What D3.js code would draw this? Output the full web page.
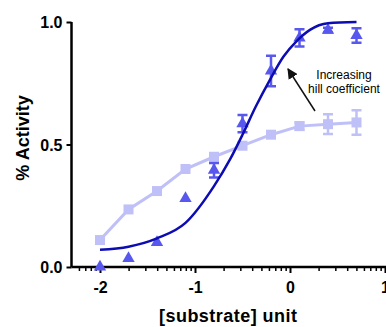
<html>
<head>
<meta charset="utf-8">
<title>Hill coefficient</title>
<script src="https://d3js.org/d3.v7.min.js"></script>
<style type="text/css">
body{ margin:0; background:#fff; }
svg{ display:block; font-family:"Liberation Sans", Arial, sans-serif; }
.axis path, .axis line{ stroke:#000; }
.axis text{ font-weight:bold; font-size:16px; fill:#000; }
.title{ font-weight:bold; font-size:18px; }
.note{ font-size:12px; }
</style>
</head>
<body>
<script>
// log10 [substrate]
var conc = [-2, -1.7, -1.4, -1.1, -0.8, -0.5, -0.2, 0.1, 0.4, 0.7];

// light squares (low hill coefficient)
var lowMean = [0.11, 0.235, 0.31, 0.40, 0.45, 0.495, 0.54, 0.575, 0.583, 0.59];
var lowErr  = [0, 0, 0, 0, 0, 0, 0.01, 0.015, 0.04, 0.05];

// triangles (high hill coefficient)
var highMean = [0.0, 0.035, 0.10, 0.28, 0.395, 0.585, 0.80, 0.935, 0.967, 0.945];
var highErr  = [0, 0, 0, 0, 0.03, 0.035, 0.062, 0.035, 0.01, 0.03];

// fitted curve
var fitX = [-2, -1.7, -1.4, -1.1, -0.8, -0.63, -0.5, -0.36, -0.21, -0.07, 0.07, 0.21, 0.4, 0.7];
var fitY = [0.07, 0.083, 0.117, 0.18, 0.33, 0.44, 0.54, 0.655, 0.765, 0.858, 0.922, 0.968, 0.995, 1.0];

var yTicks = [0, 0.5, 1.0];
var xTicks = [-2, -1, 0, 1];

var W = 386, H = 327;
var svg = d3.select('body').append('svg').attr('width', W).attr('height', H);

var x = d3.scaleLinear().domain([-2.3, 1.0]).range([71.5, 385]);
var y = d3.scaleLinear().domain([0, 1]).range([267, 22]);

// minor ticks at log positions inside each decade
var minor = [];
[-3, -2, -1, 0].forEach(function(n){
	d3.range(2, 10).forEach(function(k){
		var v = n + Math.log10(k);
		if (v > -2.3 && v < 1.0) minor.push(v);
	});
});

var xAxis = svg.append('g').attr('class', 'axis')
	.attr('transform', 'translate(0,' + y(0) + ')');
xAxis.call(d3.axisBottom(x).tickValues(minor).tickSize(4).tickFormat(''))
	.call(function(g){ g.selectAll('line').attr('stroke-width', 1.5); });
var xMajor = xAxis.append('g')
	.call(d3.axisBottom(x).tickValues(xTicks).tickSize(6).tickPadding(9)
		.tickFormat(function(d){ return String(d); }));
xMajor.select('.domain').remove();
xMajor.selectAll('line').attr('stroke-width', 2);
xMajor.selectAll('text').attr('fill', '#000');
xAxis.select('.domain').attr('stroke-width', 2.5).attr('d', 'M' + x(-2.3) + ',0H' + W);

var yAxis = svg.append('g').attr('class', 'axis')
	.attr('transform', 'translate(' + x(-2.3) + ',0)')
	.call(d3.axisLeft(y).tickValues(yTicks).tickSize(5).tickPadding(4).tickFormat(d3.format('.1f')));
yAxis.select('.domain').attr('stroke-width', 2.5).attr('d', 'M0,' + y(1) + 'V' + y(0));
yAxis.selectAll('line').attr('stroke-width', 2);
yAxis.selectAll('text').attr('dy', '0.36em');

svg.append('text').attr('class', 'title')
	.attr('transform', 'translate(29,138) rotate(-90)')
	.attr('text-anchor', 'middle')
	.text('% Activity');
svg.append('text').attr('class', 'title')
	.attr('x', 228).attr('y', 322)
	.attr('text-anchor', 'middle')
	.attr('textLength', 138)
	.text('[substrate] unit');

var plot = svg.append('g');
var lowCol = '#bfc0f7', highCol = '#5858ee', fitCol = '#0c0cb2';

var low = conc.map(function(c, i){ return {x:c, y:lowMean[i], e:lowErr[i]}; });
var high = conc.map(function(c, i){ return {x:c, y:highMean[i], e:highErr[i]}; });
var fit = fitX.map(function(c, i){ return [c, fitY[i]]; });

// square series line
plot.append('path')
	.datum(low)
	.attr('fill', 'none').attr('stroke', lowCol).attr('stroke-width', 3)
	.attr('d', d3.line().x(function(d){ return x(d.x); }).y(function(d){ return y(d.y); }));

function errorBars(data, col, w){
	var g = plot.append('g').attr('stroke', col).attr('stroke-width', w).attr('fill', 'none');
	data.filter(function(d){ return d.e > 0; }).forEach(function(d){
		var cx = x(d.x), y0 = y(d.y - d.e), y1 = y(d.y + d.e);
		g.append('path').attr('d', 'M' + cx + ',' + y0 + 'V' + y1 +
			'M' + (cx - 5) + ',' + y0 + 'H' + (cx + 5) +
			'M' + (cx - 5) + ',' + y1 + 'H' + (cx + 5));
	});
}
errorBars(low, lowCol, 2.5);

plot.selectAll('rect.sq')
	.data(low).enter().append('rect')
	.attr('class', 'sq')
	.attr('x', function(d){ return x(d.x) - 5; })
	.attr('y', function(d){ return y(d.y) - 5; })
	.attr('width', 10).attr('height', 10)
	.attr('fill', lowCol);

errorBars(high, highCol, 2.5);
plot.selectAll('path.tri')
	.data(high).enter().append('path')
	.attr('class', 'tri')
	.attr('d', d3.symbol().type(d3.symbolTriangle).size(66))
	.attr('transform', function(d){ return 'translate(' + x(d.x) + ',' + y(d.y) + ')'; })
	.attr('fill', highCol);

// fitted curve
plot.append('path')
	.datum(fit)
	.attr('fill', 'none').attr('stroke', fitCol).attr('stroke-width', 2.5)
	.attr('d', d3.line().curve(d3.curveMonotoneX)
		.x(function(d){ return x(d[0]); }).y(function(d){ return y(d[1]); }));

// annotation
svg.append('defs').append('marker')
	.attr('id', 'arr').attr('viewBox', '0 0 10 10')
	.attr('refX', 9).attr('refY', 5)
	.attr('markerWidth', 7).attr('markerHeight', 7)
	.attr('orient', 'auto')
	.append('path').attr('d', 'M0,0L10,5L0,10z').attr('fill', '#111');
svg.append('line')
	.attr('x1', 315).attr('y1', 111).attr('x2', 288).attr('y2', 69)
	.attr('stroke', '#111').attr('stroke-width', 1.5)
	.attr('marker-end', 'url(#arr)');
svg.append('text').attr('class', 'note').attr('x', 344).attr('y', 79)
	.attr('text-anchor', 'middle').text('Increasing');
svg.append('text').attr('class', 'note').attr('x', 344).attr('y', 93)
	.attr('text-anchor', 'middle').text('hill coefficient');
</script>
</body>
</html>
